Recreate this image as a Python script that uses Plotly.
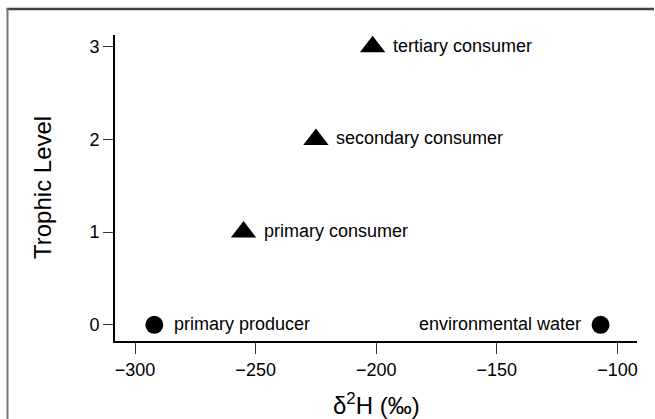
import plotly.graph_objects as go

# Data
labels = ["primary producer", "environmental water", "primary consumer",
          "secondary consumer", "tertiary consumer"]
d2H = [-292, -107, -255, -225, -201.5]
trophic = [0, 0, 1, 2, 3]
symbols = ["circle", "circle", "triangle-up", "triangle-up", "triangle-up"]
label_side = ["right", "left", "right", "right", "right"]

x_ticks = [-300, -250, -200, -150, -100]
y_ticks = [0, 1, 2, 3]

FONT = "Liberation Sans, Arial, Helvetica, sans-serif"

fig = go.Figure()

circ_x = [x for x, s in zip(d2H, symbols) if s == "circle"]
circ_y = [y for y, s in zip(trophic, symbols) if s == "circle"]
tri_x = [x for x, s in zip(d2H, symbols) if s != "circle"]
tri_y = [y for y, s in zip(trophic, symbols) if s != "circle"]

fig.add_trace(go.Scatter(x=circ_x, y=circ_y, mode="markers",
                         marker=dict(symbol="circle", size=18, color="black",
                                     line=dict(width=0)),
                         showlegend=False, hoverinfo="skip"))
fig.add_trace(go.Scatter(x=tri_x, y=tri_y, mode="markers",
                         marker=dict(symbol="triangle-up", size=22, color="black",
                                     line=dict(width=0)),
                         showlegend=False, hoverinfo="skip"))

for x, y, t, side in zip(d2H, trophic, labels, label_side):
    if side == "right":
        fig.add_annotation(x=x, y=y, text=t, showarrow=False, xanchor="left",
                           yanchor="middle", xshift=18, yshift=1,
                           font=dict(family=FONT, size=18, color="black"))
    else:
        fig.add_annotation(x=x, y=y, text=t, showarrow=False, xanchor="right",
                           yanchor="middle", xshift=-18, yshift=1,
                           font=dict(family=FONT, size=18, color="black"))

# geometry (pixels)
W, H = 655, 419
L, R, T, B = 115, 18, 35, 78
pw, ph = W - L - R, H - T - B
def px(xp):
    return (xp - L) / pw
def py(yp):
    return (H - B - yp) / ph

# axis titles
fig.add_annotation(xref="paper", yref="paper", x=px(376), y=py(404),
                   text="δ<sup>2</sup>H (‰)", showarrow=False,
                   xanchor="center", yanchor="middle",
                   font=dict(family=FONT, size=24, color="black"))
fig.add_annotation(xref="paper", yref="paper", x=px(42), y=py(188),
                   text="Trophic Level", showarrow=False, textangle=-90,
                   xanchor="center", yanchor="middle",
                   font=dict(family=FONT, size=24, color="black"))

# outer frame (left and top edges visible)
fig.add_shape(type="line", xref="paper", yref="paper",
              x0=px(6.5), x1=px(654), y0=py(9), y1=py(9),
              line=dict(color="#404040", width=2.5), layer="above")
fig.add_shape(type="line", xref="paper", yref="paper",
              x0=px(7.5), x1=px(7.5), y0=py(419), y1=py(8),
              line=dict(color="#777777", width=2), layer="above")

fig.update_layout(
    width=W, height=H,
    margin=dict(l=L, r=R, t=T, b=B, pad=0),
    paper_bgcolor="white", plot_bgcolor="white",
    font=dict(family=FONT, size=18, color="black"),
    xaxis=dict(range=[-308.3, -91.9], tickvals=x_ticks, automargin=False,
               showgrid=False, zeroline=False,
               showline=True, linecolor="black", linewidth=2,
               ticks="outside", ticklen=11, tickwidth=1, tickcolor="#333",
               tickfont=dict(size=18)),
    yaxis=dict(range=[-0.175, 3.126], tickvals=y_ticks, automargin=False,
               showgrid=False, zeroline=False,
               showline=True, linecolor="black", linewidth=2,
               ticks="outside", ticklen=10, tickwidth=1, tickcolor="#333",
               tickfont=dict(size=18)),
)

fig.write_html("out.html",
               config={"displayModeBar": False},
               post_script="document.body.style.margin='0';"
                           "document.body.style.overflow='hidden';")
